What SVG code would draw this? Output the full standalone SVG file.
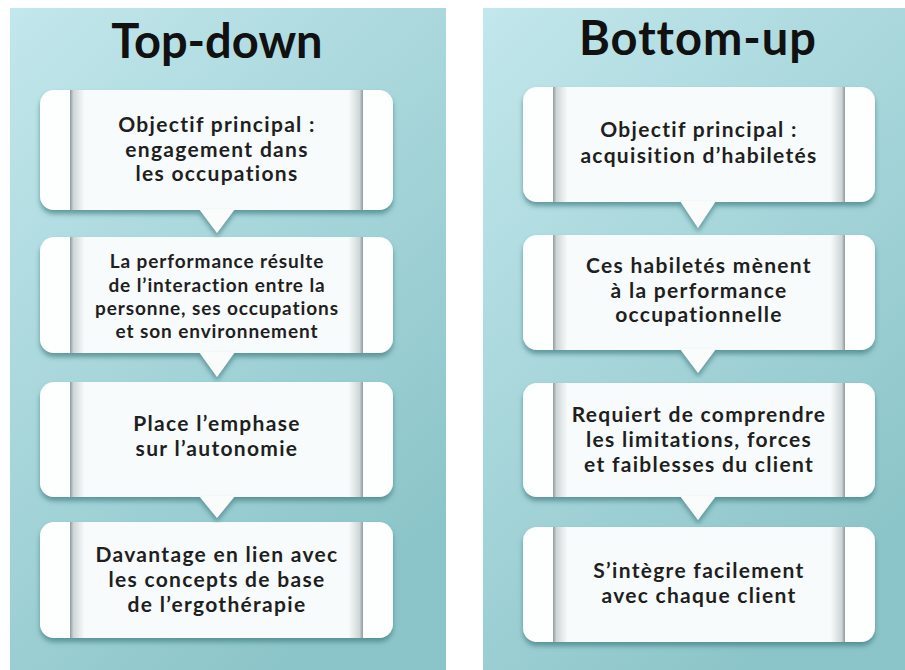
<svg xmlns="http://www.w3.org/2000/svg" width="905" height="670" viewBox="0 0 905 670">
<defs>
<linearGradient id="panelG" x1="0" y1="0" x2="0.6" y2="1">
<stop offset="0" stop-color="#c2e7ec"/>
<stop offset="1" stop-color="#8cc5c9"/>
</linearGradient>
<linearGradient id="midG" x1="0" y1="0" x2="1" y2="0">
<stop offset="0" stop-color="#8f9a9c"/>
<stop offset="0.012" stop-color="#cfd6d7"/>
<stop offset="0.05" stop-color="#f8fbfb"/>
<stop offset="0.95" stop-color="#f8fbfb"/>
<stop offset="0.988" stop-color="#cfd6d7"/>
<stop offset="1" stop-color="#8f9a9c"/>
</linearGradient>
<filter id="sh" x="-10%" y="-10%" width="120%" height="130%">
<feDropShadow dx="0" dy="4" stdDeviation="2.5" flood-color="#3f7c80" flood-opacity="0.7"/>
</filter>
</defs>
<style>
.cap{fill:#fdfefe}
.mid{fill:url(#midG)}
.ptr{fill:#fafcfc;filter:url(#sh)}
.t{font-family:Lato,"Liberation Sans",sans-serif;font-weight:700;fill:#1f1f1f;text-anchor:middle}
.title{font-size:47px;fill:#111}
.b{font-size:21px;letter-spacing:1.3px}
.s{font-size:19px;letter-spacing:0.9px}
</style>
<rect width="905" height="670" fill="#ffffff"/>
<rect id="panel-left" x="10" y="8" width="436" height="662" fill="url(#panelG)"/>
<rect id="panel-right" x="483" y="8" width="422" height="662" fill="url(#panelG)"/>
<text class="t title" x="217" y="58">Top-down</text>
<text class="t title" x="698" y="55" style="letter-spacing:1px">Bottom-up</text>

<g id="nodes">
<g id="td1" filter="url(#sh)"><rect class="cap" x="40" y="90" width="353" height="120" rx="14"/><rect class="mid" x="70" y="90" width="293" height="120"/></g>
<g id="td2" filter="url(#sh)"><rect class="cap" x="40" y="237" width="353" height="116" rx="14"/><rect class="mid" x="70" y="237" width="293" height="116"/></g>
<g id="td3" filter="url(#sh)"><rect class="cap" x="40" y="382" width="353" height="115" rx="14"/><rect class="mid" x="70" y="382" width="293" height="115"/></g>
<g id="td4" filter="url(#sh)"><rect class="cap" x="40" y="522" width="353" height="116" rx="14"/><rect class="mid" x="70" y="522" width="293" height="116"/></g>
<g id="bu1" filter="url(#sh)"><rect class="cap" x="523" y="87" width="352" height="115" rx="14"/><rect class="mid" x="553" y="87" width="292" height="115"/></g>
<g id="bu2" filter="url(#sh)"><rect class="cap" x="523" y="235" width="352" height="115" rx="14"/><rect class="mid" x="553" y="235" width="292" height="115"/></g>
<g id="bu3" filter="url(#sh)"><rect class="cap" x="523" y="383" width="352" height="114" rx="14"/><rect class="mid" x="553" y="383" width="292" height="114"/></g>
<g id="bu4" filter="url(#sh)"><rect class="cap" x="523" y="527" width="352" height="115" rx="14"/><rect class="mid" x="553" y="527" width="292" height="115"/></g>
</g>

<g id="connectors">
<polygon class="ptr" points="199,209 235,209 217,233"/>
<polygon class="ptr" points="199,352 235,352 217,377"/>
<polygon class="ptr" points="199,496 235,496 217,518"/>
<polygon class="ptr" points="680,201 716,201 698,228"/>
<polygon class="ptr" points="680,349 716,349 698,373"/>
<polygon class="ptr" points="680,496 716,496 698,520"/>
</g>

<g id="labels">
<text class="t b" x="217" y="132">Objectif principal :</text>
<text class="t b" x="217" y="157">engagement dans</text>
<text class="t b" x="217" y="181">les occupations</text>

<text class="t s" x="217" y="268">La performance résulte</text>
<text class="t s" x="217" y="292">de l’interaction entre la</text>
<text class="t s" x="217" y="315">personne, ses occupations</text>
<text class="t s" x="217" y="338">et son environnement</text>

<text class="t b" x="217" y="431">Place l’emphase</text>
<text class="t b" x="217" y="456">sur l’autonomie</text>

<text class="t b" x="217" y="562">Davantage en lien avec</text>
<text class="t b" x="217" y="587">les concepts de base</text>
<text class="t b" x="217" y="612">de l’ergothérapie</text>

<text class="t b" x="699" y="137">Objectif principal :</text>
<text class="t b" x="699" y="163">acquisition d’habiletés</text>

<text class="t b" x="699" y="273">Ces habiletés mènent</text>
<text class="t b" x="699" y="298">à la performance</text>
<text class="t b" x="699" y="322">occupationnelle</text>

<text class="t b" x="699" y="422">Requiert de comprendre</text>
<text class="t b" x="699" y="447">les limitations, forces</text>
<text class="t b" x="699" y="472">et faiblesses du client</text>

<text class="t b" x="699" y="578">S’intègre facilement</text>
<text class="t b" x="699" y="603">avec chaque client</text>
</g>
</svg>
